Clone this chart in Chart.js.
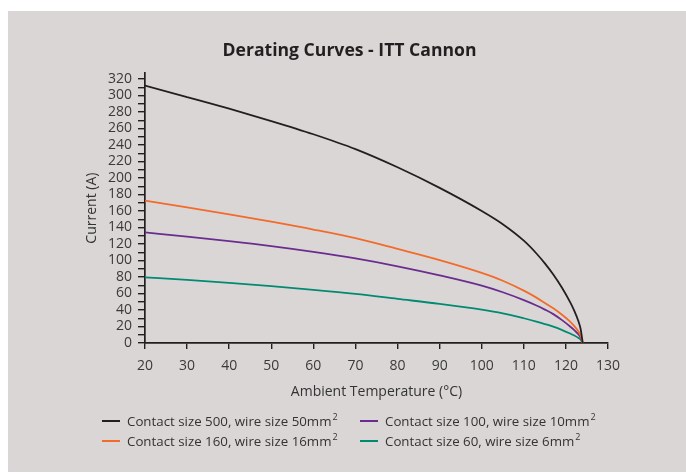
<!DOCTYPE html>
<html><head><meta charset="utf-8">
<script src="https://cdn.jsdelivr.net/npm/chart.js@4/dist/chart.umd.min.js"></script>
<style>
html,body{margin:0;padding:0;background:#fff;width:686px;height:474px;overflow:hidden;font-family:"Open Sans",sans-serif;}
#panel{position:absolute;left:8px;top:11px;width:678px;height:461px;background:#dbd6d6;}
#c{position:absolute;left:0;top:0;}
.item{position:absolute;font-size:13.3px;color:#333;white-space:nowrap;line-height:16px;height:16px;}
.item i{position:absolute;left:0;top:7px;width:18px;height:2px;}
.item span{position:absolute;left:25px;top:0;}
.item sup{font-size:9px;line-height:0;vertical-align:0;position:relative;top:-6px;margin-left:1px;}
</style></head>
<body>
<div id="panel"></div>
<canvas id="c" width="686" height="474"></canvas>
<div id="legend"></div>
<script>
// ---- data ----
const temps   = [20, 30, 40, 50, 60, 70, 80, 90, 100, 105, 110, 113, 115, 117, 119, 121, 122, 123, 123.5, 124];
const size500 = [312, 298, 284, 269, 253, 235, 213, 188, 160, 144, 124, 108.5, 96.5, 83, 67.5, 49.5, 39, 26, 17, 0];
const size160 = [172.5, 164.5, 156, 147, 137.5, 127, 114, 100.5, 85, 75.5, 63.5, 55, 48.5, 42, 34.5, 26, 20.5, 14, 9, 0];
const size100 = [134, 129, 123.5, 117.5, 110.5, 102.5, 93, 82, 69.5, 61.5, 52, 45.5, 40.5, 35, 28, 20, 15.5, 10.5, 6.5, 0];
const size60  = [79.5, 76.5, 73, 69, 64.5, 59.5, 53.5, 47.5, 40.5, 36, 30, 26, 23, 19.8, 16, 11.5, 9, 6, 4, 0];
const seriesLabels = [
  'Contact size 500, wire size 50mm',
  'Contact size 160, wire size 16mm',
  'Contact size 100, wire size 10mm',
  'Contact size 60, wire size 6mm'
];
const seriesColors = ['#231f20', '#f26b2b', '#6a2d8f', '#008a72'];
const xMin = 20, xMax = 130, xStep = 10;
const yMin = 0, yTop = 320, yAxisEnd = 327, yMinorStep = 10, yLabelStep = 20;
const titleText = 'Derating Curves - ITT Cannon';
const xTitle = 'Ambient Temperature (°C)';
const yTitle = 'Current (A)';

const seriesValues = [size500, size160, size100, size60];
const datasets = seriesValues.map((vals, k) => ({
  label: seriesLabels[k] + '²',
  data: temps.map((t, i) => ({x: t, y: vals[i]})),
  borderColor: seriesColors[k],
  backgroundColor: seriesColors[k],
  borderWidth: 1.8,
  pointRadius: 0,
  fill: false,
  cubicInterpolationMode: 'monotone'
}));

const axisColor = '#231f20';
const tickFont = {family: 'Open Sans', size: 14};

new Chart(document.getElementById('c'), {
  type: 'line',
  data: {datasets},
  options: {
    responsive: false,
    animation: false,
    layout: {padding: {left: 13, right: 0, top: 28, bottom: 74}},
    plugins: {
      legend: {display: false},
      tooltip: {enabled: false},
      title: {
        display: true, text: titleText, color: '#231f20',
        font: {family: 'Open Sans', size: 17.6, weight: 'bold'},
        padding: {top: 12.5, bottom: 11.6}
      }
    },
    scales: {
      x: {
        type: 'linear', min: xMin, max: xMax,
        ticks: {stepSize: xStep, color: '#3a3a3a', font: tickFont, padding: 9, maxRotation: 0, autoSkip: false},
        grid: {drawOnChartArea: false, drawTicks: true, tickLength: 6, color: axisColor, lineWidth: 1.4},
        border: {display: true, color: axisColor, width: 1.7},
        title: {display: true, text: xTitle, color: '#333', font: tickFont, padding: {top: 0, bottom: 0}},
        afterFit: s => { s.height = 57; }
      },
      y: {
        type: 'linear', min: yMin, max: yAxisEnd,
        afterBuildTicks: s => { s.ticks = s.ticks.filter(t => t.value <= yTop && t.value % yMinorStep === 0); },
        ticks: {stepSize: yMinorStep, includeBounds: false, autoSkip: false, color: '#3a3a3a', font: tickFont, padding: 6,
          callback: v => (v % yLabelStep === 0 ? v : '')},
        grid: {drawOnChartArea: false, drawTicks: true, tickLength: 7, color: axisColor, lineWidth: 1.4},
        border: {display: true, color: axisColor, width: 1.7},
        title: {display: true, text: yTitle, color: '#333', font: tickFont, padding: {top: 70.6, bottom: 0}},
        afterFit: s => { s.width = 132; }
      },
      y2: {
        type: 'linear', position: 'right', display: true,
        ticks: {display: false}, grid: {display: false}, border: {display: false},
        afterFit: s => { s.width = 78; }
      }
    }
  }
});

// legend (two rows, two columns, like the reference)
const legendPos = [[102, 413], [102, 433], [360, 413], [360, 433]];
const lg = document.getElementById('legend');
seriesLabels.forEach((lab, k) => {
  const d = document.createElement('div');
  d.className = 'item';
  d.style.left = legendPos[k][0] + 'px';
  d.style.top = legendPos[k][1] + 'px';
  const i = document.createElement('i');
  i.style.background = seriesColors[k];
  const sp = document.createElement('span');
  sp.textContent = lab;
  const sup = document.createElement('sup');
  sup.textContent = '2';
  sp.appendChild(sup);
  d.appendChild(i); d.appendChild(sp);
  lg.appendChild(d);
});
</script>
</body></html>
